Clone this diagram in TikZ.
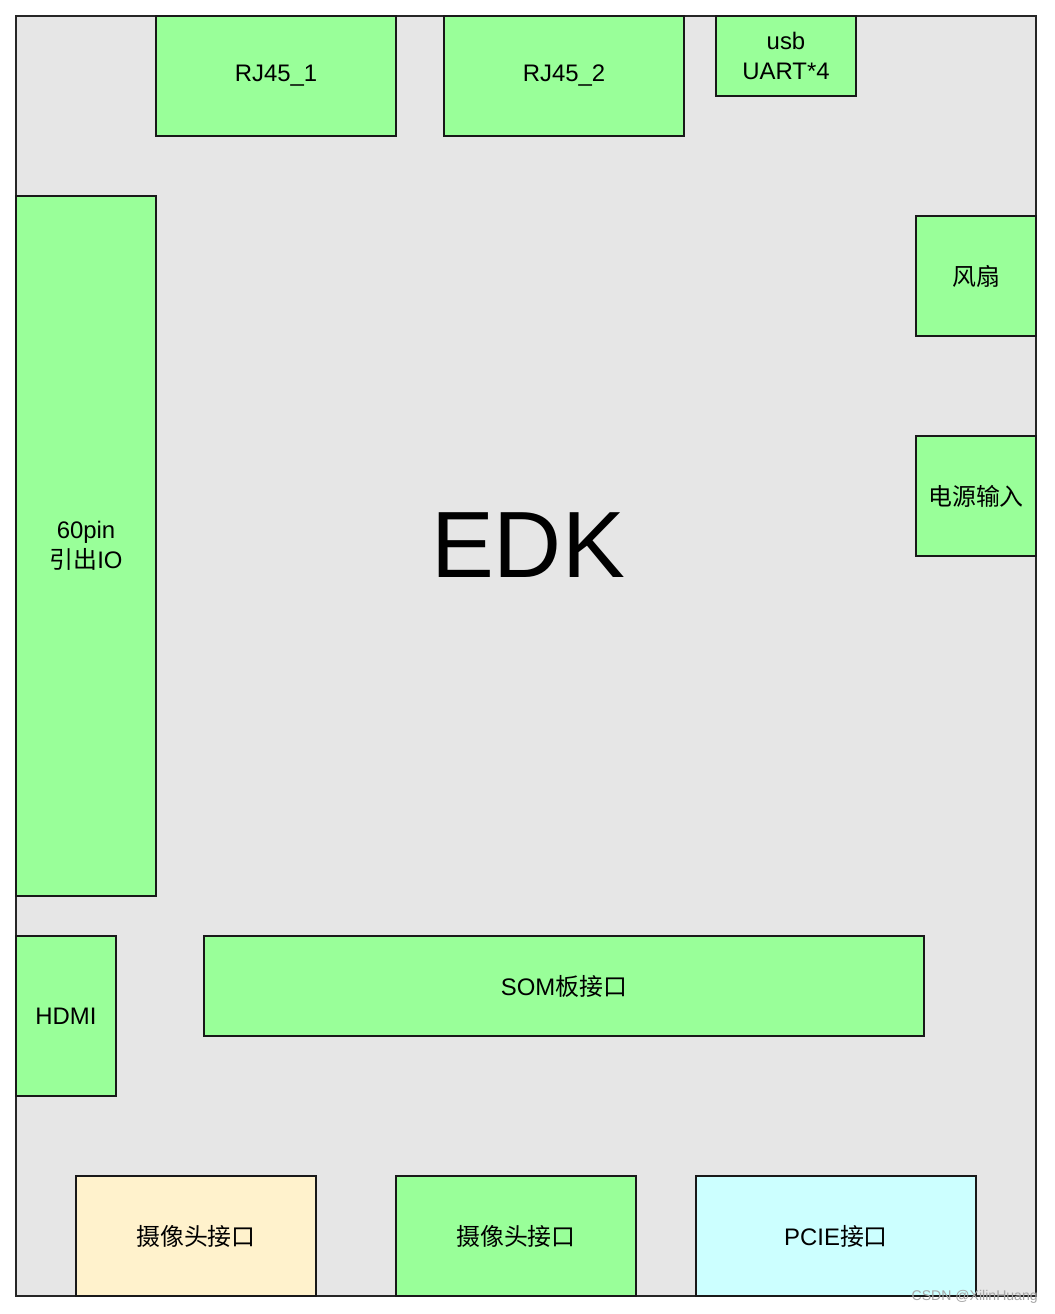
\documentclass[tikz,border=0pt]{standalone}
\usepackage{fontspec}
\setmainfont{Liberation Sans}
\newfontfamily\cjk{Noto Sans CJK SC}
\usepackage{tikz}

\definecolor{boardgray}{HTML}{E6E6E6}
\definecolor{partgreen}{HTML}{99FF99}
\definecolor{partyellow}{HTML}{FFF2CC}
\definecolor{partcyan}{HTML}{CCFFFF}

\begin{document}
\begin{tikzpicture}[x=0.025cm, y=-0.025cm,
    part/.style={draw=black!90, line width=1.5pt, fill=partgreen, align=center,
        inner sep=0pt, font=\fontsize{17}{21.3}\selectfont},
    board/.style={draw=black!85, line width=1.5pt, fill=boardgray, inner sep=0pt}]

    \useasboundingbox[fill=white] (0,0) rectangle (1054,1314);

    \node[board, minimum width=25.5cm, minimum height=32cm] (edk) at (526,656) {};
    \node (edktext) at (528,545) {\fontsize{67}{67}\selectfont EDK};
    
    
    \node[part, minimum width=6cm, minimum height=3cm] (rj1) at (276,76) {RJ45\_1};
    \node[part, minimum width=6cm, minimum height=3cm] (rj2) at (564,76) {RJ45\_2};
    \node[part, minimum width=3.5cm, minimum height=2cm] (usb) at (786,56) {usb\\UART*4};
    
    
    \node[part, minimum width=3cm, minimum height=3cm] (fan) at (976,276) {\cjk 风扇};
    \node[part, minimum width=3cm, minimum height=3cm] (power) at (976,496) {\cjk 电源输入};
    
    
    \node[part, minimum width=3.5cm, minimum height=17.5cm] (gpio) at (86,546) {60pin\\{\cjk 引出}IO};
    \node[part, minimum width=2.5cm, minimum height=4cm] (hdmi) at (66,1016) {HDMI};
    \node[part, minimum width=18cm, minimum height=2.5cm] (som) at (564,986) {SOM{\cjk 板接口}};
    
    
    \node[part, fill=partyellow, minimum width=6cm, minimum height=3cm] (cam1) at (196,1236) {\cjk 摄像头接口};
    \node[part, minimum width=6cm, minimum height=3cm] (cam2) at (516,1236) {\cjk 摄像头接口};
    \node[part, fill=partcyan, minimum width=7cm, minimum height=3cm] (pcie) at (836,1236) {PCIE{\cjk 接口}};
    
    %watermark
    \node[anchor=east, text=black!35, font=\fontsize{10}{10}\selectfont, inner sep=0pt] (mark) at (1038,1297) {CSDN @XilinHuang};

\end{tikzpicture}
\end{document}
